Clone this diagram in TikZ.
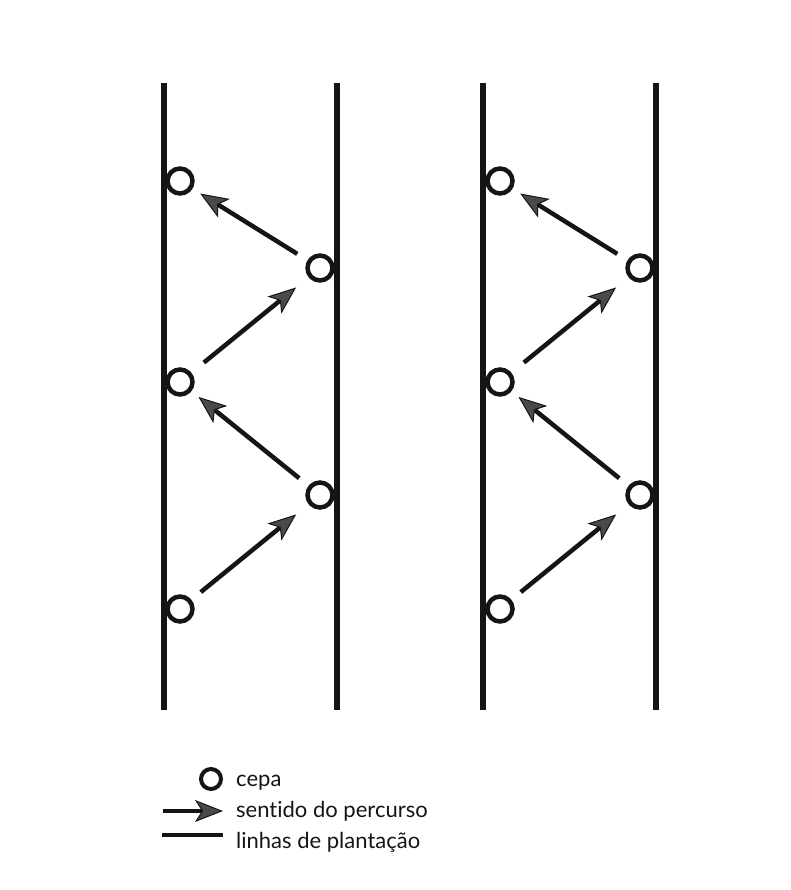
\documentclass[tikz,border=0pt]{standalone}
\usepackage{fontspec}
\setmainfont{Lato}[Ligatures={NoCommon,NoRare}]
\usetikzlibrary{arrows.meta}
\definecolor{ink}{HTML}{151515}
\definecolor{headfill}{HTML}{4A4A4A}
\tikzset{
  cepa/.style={circle,draw=ink,line width=4.5pt,minimum size=25pt,inner sep=0pt,fill=white},
  cepasmall/.style={circle,draw=ink,line width=4pt,minimum size=20pt,inner sep=0pt},
  rowline/.style={draw=ink,line width=6pt},
  path/.style={draw=ink,line width=4.5pt,-{Stealth[length=28pt,width=22pt,inset=7pt,line width=1pt,fill=headfill]}},
  legtext/.style={anchor=base west,inner sep=0pt,text=ink,font=\fontsize{22}{26}\selectfont}
}
\begin{document}
\begin{tikzpicture}[x=1pt,y=-1pt]
\useasboundingbox (0,0) rectangle (790,890);
% planting lines
\foreach \n/\x in {a/164,b/337,c/483,d/656}{
  \coordinate (\n top) at (\x,83);
  \coordinate (\n bot) at (\x,710);
  \draw[rowline] (\n top) -- (\n bot);
}
% vines
\foreach \p/\xl/\xr in {L/180/320,R/500/640}{
  \node[cepa] (\p1) at (\xl,609) {};
  \node[cepa] (\p2) at (\xr,495) {};
  \node[cepa] (\p3) at (\xl,382) {};
  \node[cepa] (\p4) at (\xr,268) {};
  \node[cepa] (\p5) at (\xl,181) {};
  \draw[path,shorten <=12pt,shorten >=16pt] (\p1) -- (\p2);
  \draw[path,shorten <=12pt,shorten >=9pt] (\p2) -- (\p3);
  \draw[path,shorten <=16pt,shorten >=16pt] (\p3) -- (\p4);
  \draw[path,shorten <=12pt,shorten >=9pt] (\p4) -- (\p5);
}
% legend
\node[cepasmall] (legc) at (211,779) {};
\node[legtext] (legct) at (236,786) {cepa};
\coordinate (lega1) at (163,811);
\coordinate (lega2) at (223,811);
\draw[path] (lega1) -- (lega2);
\node[legtext] (legat) at (236,817) {sentido do percurso};
\coordinate (legl1) at (162,835);
\coordinate (legl2) at (223,835);
\draw[rowline,line width=4.5pt] (legl1) -- (legl2);
\node[legtext] (leglt) at (236,848) {linhas de plantação};
\end{tikzpicture}
\end{document}
